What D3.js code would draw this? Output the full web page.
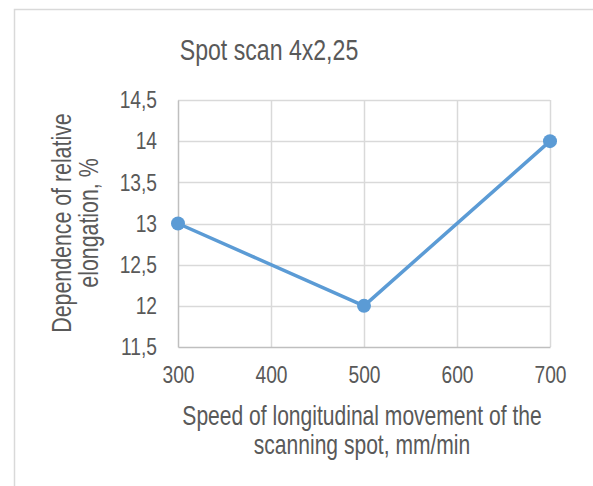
<!DOCTYPE html>
<html><head><meta charset="utf-8">
<script src="https://cdn.jsdelivr.net/npm/d3@7"></script>
<style>
body{margin:0;background:#fff;}
text{font-family:"Liberation Sans",Arial,sans-serif;fill:#595959;}
</style></head>
<body><svg id="c" width="593" height="486"></svg>
<script>
const title = "Spot scan 4x2,25";
const xValues = [300, 500, 700];
const yValues = [13, 12, 14];
const xTicks = [300, 400, 500, 600, 700];
const yTicks = [11.5, 12, 12.5, 13, 13.5, 14, 14.5];
const yLabelLines = ["Dependence of relative", "elongation, %"];
const xLabelLines = ["Speed of longitudinal movement of the", "scanning spot, mm/min"];

const svg = d3.select("#c");
const m = {l:178, r:550, t:100, b:347};
const x = d3.scaleLinear().domain([300,700]).range([m.l, m.r]);
const y = d3.scaleLinear().domain([11.5,14.5]).range([m.b, m.t]);
const fmt = v => String(v).replace(".", ",");
const SX = 0.8;

svg.append("rect").attr("x",14.5).attr("y",9.5).attr("width",620).attr("height",520)
  .attr("fill","#fff").attr("stroke","#d9d9d9").attr("stroke-width",1.5);

svg.append("text").attr("transform","translate(269,60) scale(0.77,1)").attr("text-anchor","middle")
  .style("font-size","30px").text(title);

// gridlines
const g = svg.append("g");
g.selectAll("line.h").data(yTicks.slice(1)).join("line")
  .attr("x1",m.l).attr("x2",m.r).attr("y1",d=>Math.round(y(d))+0.5).attr("y2",d=>Math.round(y(d))+0.5)
  .attr("stroke","#d9d9d9").attr("stroke-width",1.5);
g.selectAll("line.v").data(xTicks.slice(1)).join("line")
  .attr("y1",m.t).attr("y2",m.b).attr("x1",d=>Math.round(x(d))+0.5).attr("x2",d=>Math.round(x(d))+0.5)
  .attr("stroke","#d9d9d9").attr("stroke-width",1.5);

// axes
const ax = svg.append("g").attr("transform",`translate(0,${m.b})`)
  .call(d3.axisBottom(x).tickValues(xTicks).tickSize(0).tickPadding(19).tickFormat(fmt));
ax.select(".domain").attr("stroke","#bfbfbf").attr("stroke-width",1.5);
ax.selectAll("text").style("font-size","24px").attr("fill","#595959").attr("transform",`scale(${SX},1)`);
const ay = svg.append("g").attr("transform",`translate(${m.l},0)`)
  .call(d3.axisLeft(y).tickValues(yTicks).tickSize(0).tickPadding(21).tickFormat(fmt));
ay.select(".domain").attr("stroke","#bfbfbf").attr("stroke-width",1.5);
ay.selectAll("text").style("font-size","24px").attr("fill","#595959")
  .attr("x",-21/SX).attr("transform",`scale(${SX},1)`);

// line
const data = xValues.map((v,i)=>({x:v,y:yValues[i]}));
svg.append("path").datum(data).attr("fill","none").attr("stroke","#5b9bd5")
  .attr("stroke-width",3.5).attr("stroke-linejoin","round")
  .attr("d", d3.line().x(d=>x(d.x)).y(d=>y(d.y)));
svg.selectAll("circle").data(data).join("circle")
  .attr("cx",d=>x(d.x)).attr("cy",d=>y(d.y)).attr("r",7).attr("fill","#5b9bd5");

// y label
const yl = svg.append("text").attr("transform","translate(0,223) rotate(-90) scale(0.79,1)").attr("text-anchor","middle")
  .style("font-size","27px");
yLabelLines.forEach((t,i)=>yl.append("tspan").attr("x",0).attr("y",71+i*27).text(t));

// x label
const xl = svg.append("g").attr("transform","translate(362,0) scale(0.78,1)");
const xt = xl.append("text").attr("text-anchor","middle").style("font-size","27px");
xLabelLines.forEach((t,i)=>xt.append("tspan").attr("x",0).attr("y",425+i*29).text(t));
</script></body></html>
